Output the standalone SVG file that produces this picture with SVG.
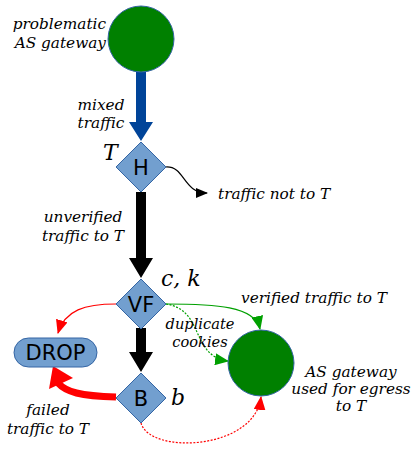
<svg xmlns="http://www.w3.org/2000/svg" width="413" height="449" viewBox="0 0 413 449">
<style>
.lbl{font-family:"DejaVu Serif",serif;font-style:italic;font-size:15.3px;fill:#000}
.sm{font-size:14.6px}
.big{font-family:"DejaVu Serif",serif;font-style:italic;font-size:22px;fill:#000}
.nd{font-family:"DejaVu Sans",sans-serif;font-size:21px;fill:#000;text-anchor:middle}
.dia{fill:#729fcf;stroke:#3465a4;stroke-width:1}
.gw{fill:#008000;stroke:#3465a4;stroke-width:1}
</style>
<defs>
<marker id="ah" markerWidth="12" markerHeight="10" refX="11" refY="5" orient="auto" markerUnits="userSpaceOnUse"><path d="M0,0 L12,5 L0,10 Z" fill="#000"/></marker>
<marker id="ahr" markerWidth="14" markerHeight="12" refX="13" refY="6" orient="auto" markerUnits="userSpaceOnUse"><path d="M0,0 L14,6 L0,12 Z" fill="#ff0000"/></marker>
<marker id="ahg" markerWidth="14" markerHeight="12" refX="13" refY="6" orient="auto" markerUnits="userSpaceOnUse"><path d="M0,0 L14,6 L0,12 Z" fill="#00a000"/></marker>
</defs>
<g id="connectors">
<path d="M136,72 H146 V122 H153 L141,141 L129,122 H136 Z" fill="#004499"/>
<path d="M136,192 H146 V258 H153 L141,278 L129,258 H136 Z" fill="#000"/>
<path d="M136,328 H146 V352 H153 L141,372 L129,352 H136 Z" fill="#000"/>
<path d="M166,167 C185,166 183,193 207,193" fill="none" stroke="#000" stroke-width="1.2" marker-end="url(#ah)"/>
<path d="M116,304 C85,304 65,310 58,333" fill="none" stroke="#ff0000" stroke-width="1.2" marker-end="url(#ahr)"/>
<path d="M116,397 C80,396 66,392 58,383" fill="none" stroke="#ff0000" stroke-width="7"/>
<path d="M49,389 L53,366 L73,378 Z" fill="#ff0000"/>
<path d="M166,304 C215,304 255,306 260,329" fill="none" stroke="#00a000" stroke-width="1.2" marker-end="url(#ahg)"/>
<path d="M166,304 C205,310 190,356 228,361" fill="none" stroke="#00a000" stroke-width="1.2" stroke-dasharray="2,1.5" marker-end="url(#ahg)"/>
<path d="M141,423 C150,455 255,450 261,397" fill="none" stroke="#ff0000" stroke-width="1.2" stroke-dasharray="2,1.5" marker-end="url(#ahr)"/>
</g>
<g id="src">
<circle class="gw" cx="141" cy="39" r="33"/>
<text class="lbl" x="106" y="29" text-anchor="end">problematic</text>
<text class="lbl" x="106" y="48" text-anchor="end">AS gateway</text>
</g>
<g id="mixed"><text class="lbl" x="101" y="110" text-anchor="middle">mixed</text><text class="lbl" x="101" y="128" text-anchor="middle">traffic</text></g>
<g id="H">
<path class="dia" d="M141,142 L166,167 L141,192 L116,167 Z"/>
<text class="nd" x="141" y="175">H</text>
<text class="big" x="103" y="160">T</text>
</g>
<g id="notT"><text class="lbl" x="218" y="199">traffic not to T</text></g>
<g id="unv"><text class="lbl" x="83" y="222" text-anchor="middle">unverified</text><text class="lbl" x="83" y="241" text-anchor="middle">traffic to T</text></g>
<g id="VF">
<path class="dia" d="M141,279 L166,304 L141,329 L116,304 Z"/>
<text class="nd" x="141" y="312">VF</text>
<text class="big" x="161" y="286">c, k</text>
</g>
<g id="B">
<path class="dia" d="M141,373 L166,398 L141,423 L116,398 Z"/>
<text class="nd" x="141" y="406">B</text>
<text class="big" x="171" y="405">b</text>
</g>
<g id="DROP">
<rect x="14" y="338" width="83" height="29" rx="14.5" fill="#729fcf" stroke="#3465a4" stroke-width="1"/>
<text class="nd" x="55.5" y="360">DROP</text>
</g>
<g id="failed"><text class="lbl" x="48" y="415" text-anchor="middle">failed</text><text class="lbl" x="48" y="434" text-anchor="middle">traffic to T</text></g>
<g id="dst">
<circle class="gw" cx="261" cy="363" r="33"/>
<text class="lbl" x="351" y="377" text-anchor="middle">AS gateway</text>
<text class="lbl" x="351" y="394" text-anchor="middle">used for egress</text>
<text class="lbl" x="351" y="411" text-anchor="middle">to T</text>
</g>
<g id="ver"><text class="lbl" x="241" y="303">verified traffic to T</text></g>
<g id="dup"><text class="lbl sm" x="200" y="329" text-anchor="middle">duplicate</text><text class="lbl sm" x="200" y="347" text-anchor="middle">cookies</text></g>
</svg>
